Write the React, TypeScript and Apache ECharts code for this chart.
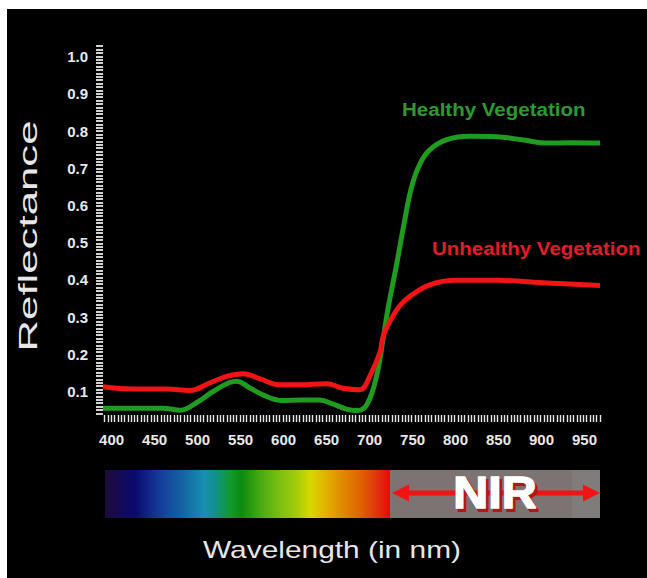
import React, { useEffect, useRef } from "react";
import * as echarts from "echarts";

const healthyNm = [390, 420, 460, 480, 500, 520, 545, 562, 580, 598, 620, 642, 658, 673, 686, 697, 708, 716, 722, 731, 741, 749, 759, 770, 790, 817, 848, 879, 906, 933, 968];
const healthyVals = [0.055, 0.055, 0.055, 0.05, 0.072, 0.103, 0.128, 0.108, 0.087, 0.076, 0.077, 0.077, 0.066, 0.053, 0.049, 0.065, 0.14, 0.245, 0.33, 0.436, 0.562, 0.651, 0.714, 0.75, 0.777, 0.786, 0.785, 0.776, 0.768, 0.769, 0.768];

const unhealthyNm = [390, 425, 464, 491, 514, 534, 553, 573, 596, 619, 650, 669, 689, 700, 712, 716, 724, 735, 747, 770, 801, 848, 906, 968];
const unhealthyVals = [0.113, 0.107, 0.107, 0.103, 0.123, 0.141, 0.148, 0.134, 0.118, 0.118, 0.121, 0.109, 0.105, 0.14, 0.205, 0.25, 0.29, 0.33, 0.356, 0.387, 0.399, 0.399, 0.392, 0.385];

const xTickLabels = [400, 450, 500, 550, 600, 650, 700, 750, 800, 850, 900, 950];
const yTickLabels = [0.1, 0.2, 0.3, 0.4, 0.5, 0.6, 0.7, 0.8, 0.9, 1.0];

const seriesNames = ["Healthy Vegetation", "Unhealthy Vegetation"];

const X_MIN = 390;
const X_MAX = 968;
const Y_MIN = 0.037;
const Y_MAX = 1.037;

const FONT = "'Liberation Sans', Arial, sans-serif";

// ruler (dense tick) positions along each axis
const rulerTicks = (min: number, max: number, step: number) => {
  const out: number[] = [];
  for (let v = min + step / 2; v <= max; v += step) out.push(+v.toFixed(5));
  return out;
};

export default function App() {
  const ref = useRef<HTMLDivElement>(null);
  useEffect(() => {
    if (!ref.current) return;
    const chart = echarts.init(ref.current, null, { renderer: "svg" });
    const spectrumStops = [
      [0, "#1e0a3c"],
      [0.105, "#0a0a6e"],
      [0.193, "#143c9a"],
      [0.28, "#1468a4"],
      [0.35, "#1890b0"],
      [0.386, "#10908c"],
      [0.439, "#109a30"],
      [0.48, "#0c8a10"],
      [0.544, "#48aa10"],
      [0.614, "#7cc010"],
      [0.677, "#a8cc08"],
      [0.72, "#d8d800"],
      [0.772, "#e0b400"],
      [0.83, "#e08c00"],
      [0.9, "#e06000"],
      [0.958, "#e03010"],
      [1, "#e80808"],
    ].map(([o, c]) => ({ offset: o as number, color: c as string }));

    chart.setOption({
      animation: false,
      backgroundColor: "#ffffff",
      grid: { left: 103, top: 43, width: 497, height: 372, containLabel: false },
      xAxis: {
        type: "value",
        min: X_MIN,
        max: X_MAX,
        axisLine: { show: false, onZero: false },
        axisTick: {
          show: true,
          customValues: rulerTicks(X_MIN, X_MAX, 3.84),
          length: 7,
          lineStyle: { color: "#e8e8e8", width: 1.4 },
        },
        splitLine: { show: false },
        axisLabel: {
          customValues: xTickLabels,
          color: "#e8e8e8",
          fontWeight: "bold",
          fontSize: 15,
          fontFamily: FONT,
          margin: 17,
          formatter: (v: number) => String(v),
        },
      },
      yAxis: {
        type: "value",
        min: Y_MIN,
        max: Y_MAX,
        axisLine: { show: false },
        axisTick: {
          show: true,
          customValues: rulerTicks(Y_MIN, Y_MAX, 0.00914),
          length: 7,
          lineStyle: { color: "#e8e8e8", width: 1.8 },
        },
        splitLine: { show: false },
        axisLabel: {
          customValues: yTickLabels,
          color: "#e8e8e8",
          fontWeight: "bold",
          fontSize: 15,
          fontFamily: FONT,
          margin: 15,
          formatter: (v: number) => v.toFixed(1),
        },
      },
      series: [
        {
          name: seriesNames[0],
          type: "line",
          smooth: 0.4,
          showSymbol: false,
          symbol: "none",
          lineStyle: { color: "#1f9b1f", width: 5 },
          data: healthyNm.map((w, i) => [w, healthyVals[i]]),
          z: 3,
        },
        {
          name: seriesNames[1],
          type: "line",
          smooth: 0.4,
          showSymbol: false,
          symbol: "none",
          lineStyle: { color: "#f01414", width: 5 },
          data: unhealthyNm.map((w, i) => [w, unhealthyVals[i]]),
          z: 4,
        },
      ],
      graphic: [
        { type: "rect", z: -10, shape: { x: 7, y: 9, width: 640, height: 569 }, style: { fill: "#000000" } },
        {
          type: "text",
          z: 10,
          x: 29,
          y: 236,
          rotation: Math.PI / 2,
          scaleX: 1.75,
          style: {
            text: "Reflectance",
            fill: "#e6e6e6",
            fontSize: 25,
            fontFamily: FONT,
            align: "center",
            verticalAlign: "middle",
          },
        },
        {
          type: "text",
          z: 10,
          x: 332,
          y: 550,
          scaleX: 1.3,
          style: {
            text: "Wavelength (in nm)",
            fill: "#e6e6e6",
            fontSize: 23,
            fontFamily: FONT,
            align: "center",
            verticalAlign: "middle",
          },
        },
        {
          type: "text",
          z: 10,
          x: 402,
          y: 109,
          scaleX: 1.08,
          style: {
            text: seriesNames[0],
            fill: "#2e9a2e",
            fontSize: 19,
            fontWeight: "bold",
            fontFamily: FONT,
            align: "left",
            verticalAlign: "middle",
          },
        },
        {
          type: "text",
          z: 10,
          x: 432,
          y: 248,
          scaleX: 1.08,
          style: {
            text: seriesNames[1],
            fill: "#e31c28",
            fontSize: 19,
            fontWeight: "bold",
            fontFamily: FONT,
            align: "left",
            verticalAlign: "middle",
          },
        },
        {
          type: "rect",
          z: 10,
          shape: { x: 105, y: 470, width: 285, height: 48 },
          style: { fill: new echarts.graphic.LinearGradient(0, 0, 1, 0, spectrumStops) },
        },
        { type: "rect", z: 10, shape: { x: 390, y: 470, width: 210, height: 48 }, style: { fill: "#7d7373" } },
        { type: "rect", z: 10, shape: { x: 572, y: 470, width: 28, height: 48 }, style: { fill: "#817c7c" } },
        { type: "line", z: 11, shape: { x1: 404, y1: 493, x2: 588, y2: 493 }, style: { stroke: "#f01414", lineWidth: 5 } },
        { type: "polygon", z: 11, shape: { points: [[392, 493], [409, 484.5], [409, 501.5]] }, style: { fill: "#f01414" } },
        { type: "polygon", z: 11, shape: { points: [[600, 493], [583, 484.5], [583, 501.5]] }, style: { fill: "#f01414" } },
        {
          type: "text",
          z: 12,
          x: 497.5,
          y: 495.5,
          scaleX: 1.1,
          style: {
            text: "NIR",
            fill: "#b01818",
            stroke: "#b01818",
            lineWidth: 2,
            fontSize: 44,
            fontWeight: "bold",
            fontFamily: FONT,
            align: "center",
            verticalAlign: "middle",
          },
        },
        {
          type: "text",
          z: 13,
          x: 495,
          y: 493,
          scaleX: 1.1,
          style: {
            text: "NIR",
            fill: "#ffffff",
            stroke: "#ffffff",
            lineWidth: 1.5,
            fontSize: 44,
            fontWeight: "bold",
            fontFamily: FONT,
            align: "center",
            verticalAlign: "middle",
          },
        },
      ],
    });
    return () => chart.dispose();
  }, []);
  return <div ref={ref} style={{ position: "absolute", left: 0, top: 0, width: 647, height: 578 }} />;
}
